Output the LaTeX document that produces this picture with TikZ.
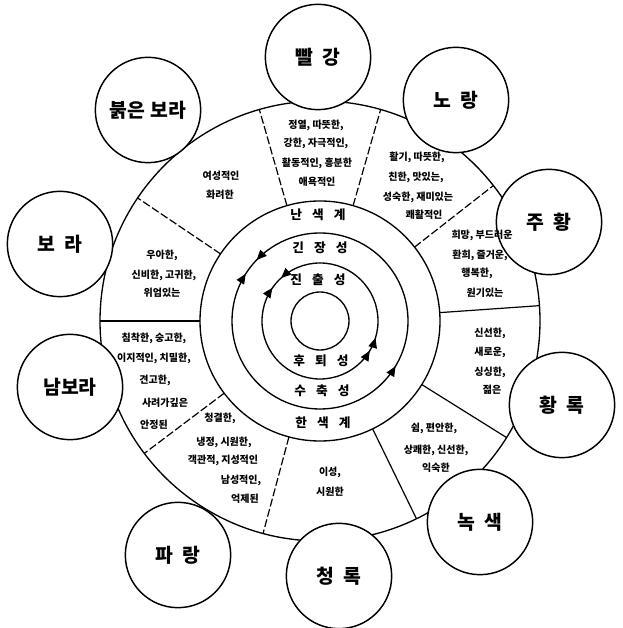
\documentclass[tikz,border=0pt]{standalone}
\usepackage{fontspec}
\newfontfamily\kr{Noto Sans CJK KR}
\usetikzlibrary{decorations.markings,arrows.meta}
\begin{document}
\begin{tikzpicture}[x=0.75pt,y=0.75pt,
  ringline/.style={line width=1pt},
  sectline/.style={line width=0.9pt},
  dashsect/.style={sectline,dash pattern=on 6pt off 2pt},
  colorball/.style={circle,draw,line width=1.1pt,fill=white,minimum size=79pt,inner sep=0pt,font=\kr\bfseries\fontsize{14.5}{14.5}\selectfont},
  assoc/.style={font=\kr\bfseries\fontsize{7.5}{9}\selectfont,inner sep=0pt},
  ringtext/.style={font=\kr\bfseries\fontsize{9.5}{10}\selectfont,inner sep=0pt}
]
\useasboundingbox (0,0) rectangle (622,628);
\coordinate (C) at (320,307);
\def\tipA{\arrow{Triangle[length=7.5pt,width=6.5pt]}}
\def\tipB{\arrowreversed{Triangle[length=7.5pt,width=6.5pt]}}
% outer boundary
\draw[ringline] (C) circle (220);
% sector boundaries
\foreach \a/\s in {74/dashsect,106/dashsect,38/dashsect,4/sectline,-32/sectline,-64/sectline,-105/dashsect,-143/dashsect,180/sectline,146/dashsect}{
  \draw[\s] ([shift={(\a:120)}]C) -- ([shift={(\a:220)}]C);
}
% rings
\draw[ringline,fill=white] (C) circle (120);
\draw[ringline,postaction={decorate},decoration={markings,
  mark=at position 0.378 with {\tipA},
  mark=at position 0.410 with {\tipB},
  mark=at position 0.914 with {\tipA}}] (C) circle (88);
\draw[ringline,postaction={decorate},decoration={markings,
  mark=at position 0.367 with {\tipA},
  mark=at position 0.403 with {\tipB},
  mark=at position 0.953 with {\tipA},
  mark=at position 0.914 with {\tipA}}] (C) circle (58);
\draw[ringline] (C) circle (29);
% ring labels
\node[ringtext] (warm) at (318,413) {난\hspace{0.8em}색\hspace{0.8em}계};
\node[ringtext] (tens) at (320,380) {긴\hspace{0.8em}장\hspace{0.8em}성};
\node[ringtext] (adv)  at (318,348) {진\hspace{0.8em}출\hspace{0.8em}성};
\node[ringtext] (rec)  at (321,267) {후\hspace{0.8em}퇴\hspace{0.8em}성};
\node[ringtext] (con)  at (322,237) {수\hspace{0.8em}축\hspace{0.8em}성};
\node[ringtext] (cool) at (323,205) {한\hspace{0.8em}색\hspace{0.8em}계};
% colour balls
\node[colorball] (R)  at (318,571) {빨\hspace{0.5em}강};
\node[colorball] (Y)  at (456,528) {노\hspace{0.5em}랑};
\node[colorball] (YR) at (549,406) {주\hspace{0.5em}황};
\node[colorball] (GY) at (562,223) {황\hspace{0.5em}록};
\node[colorball] (G)  at (480,106) {녹\hspace{0.5em}색};
\node[colorball] (BG) at (339,52)  {청\hspace{0.5em}록};
\node[colorball] (B)  at (178,73)  {파\hspace{0.5em}랑};
\node[colorball] (PB) at (70,241)  {남보라};
\node[colorball] (P)  at (60,384)  {보\hspace{0.5em}라};
\node[colorball] (RP) at (148,518) {붉은\hspace{0.3em}보라};
% associations
\node[assoc] (r1) at (316,503) {정열, 따뜻한,};
\node[assoc] (r2) at (316,485) {강한, 자극적인,};
\node[assoc] (r3) at (317,465) {활동적인, 흥분한};
\node[assoc] (r4) at (317,446) {애욕적인};
\node[assoc] (y1) at (417,471) {활기, 따뜻한,};
\node[assoc] (y2) at (416,451) {친한, 맛있는,};
\node[assoc] (y3) at (418,431) {성숙한, 재미있는};
\node[assoc] (y4) at (424,413) {쾌활적인};
\node[assoc] (o1) at (482,393) {희망, 부드러운};
\node[assoc] (o2) at (480,373) {환희, 즐거운,};
\node[assoc] (o3) at (477,355) {행복한,};
\node[assoc] (o4) at (485,335) {원기있는};
\node[assoc] (gy1) at (490,295) {신선한,};
\node[assoc] (gy2) at (490,276) {새로운,};
\node[assoc] (gy3) at (490,256) {싱싱한,};
\node[assoc] (gy4) at (492,238) {젊은};
\node[assoc] (g1) at (434,200) {쉼, 편안한,};
\node[assoc] (g2) at (436,178) {상쾌한, 신선한,};
\node[assoc] (g3) at (436,160) {익숙한};
\node[assoc] (bg1) at (330,156) {이성,};
\node[assoc] (bg2) at (330,136) {시원한};
\node[assoc] (b1) at (220,210) {청결한,};
\node[assoc] (b2) at (224,186) {냉정, 시원한,};
\node[assoc] (b3) at (223,168) {객관적, 지성적인};
\node[assoc] (b4) at (241,148) {남성적인,};
\node[assoc] (b5) at (245,129) {억제된};
\node[assoc] (pb1) at (154,290) {침착한, 숭고한,};
\node[assoc] (pb2) at (154,270) {이지적인, 치밀한,};
\node[assoc] (pb3) at (155,248) {견고한,};
\node[assoc] (pb4) at (165,225) {사려가깊은};
\node[assoc] (pb5) at (154,203) {안정된};
\node[assoc] (p1) at (162,373) {우아한,};
\node[assoc] (p2) at (164,353) {신비한, 고귀한,};
\node[assoc] (p3) at (162,335) {위엄있는};
\node[assoc] (rp1) at (221,452) {여성적인};
\node[assoc] (rp2) at (220,433) {화려한};
\end{tikzpicture}
\end{document}
